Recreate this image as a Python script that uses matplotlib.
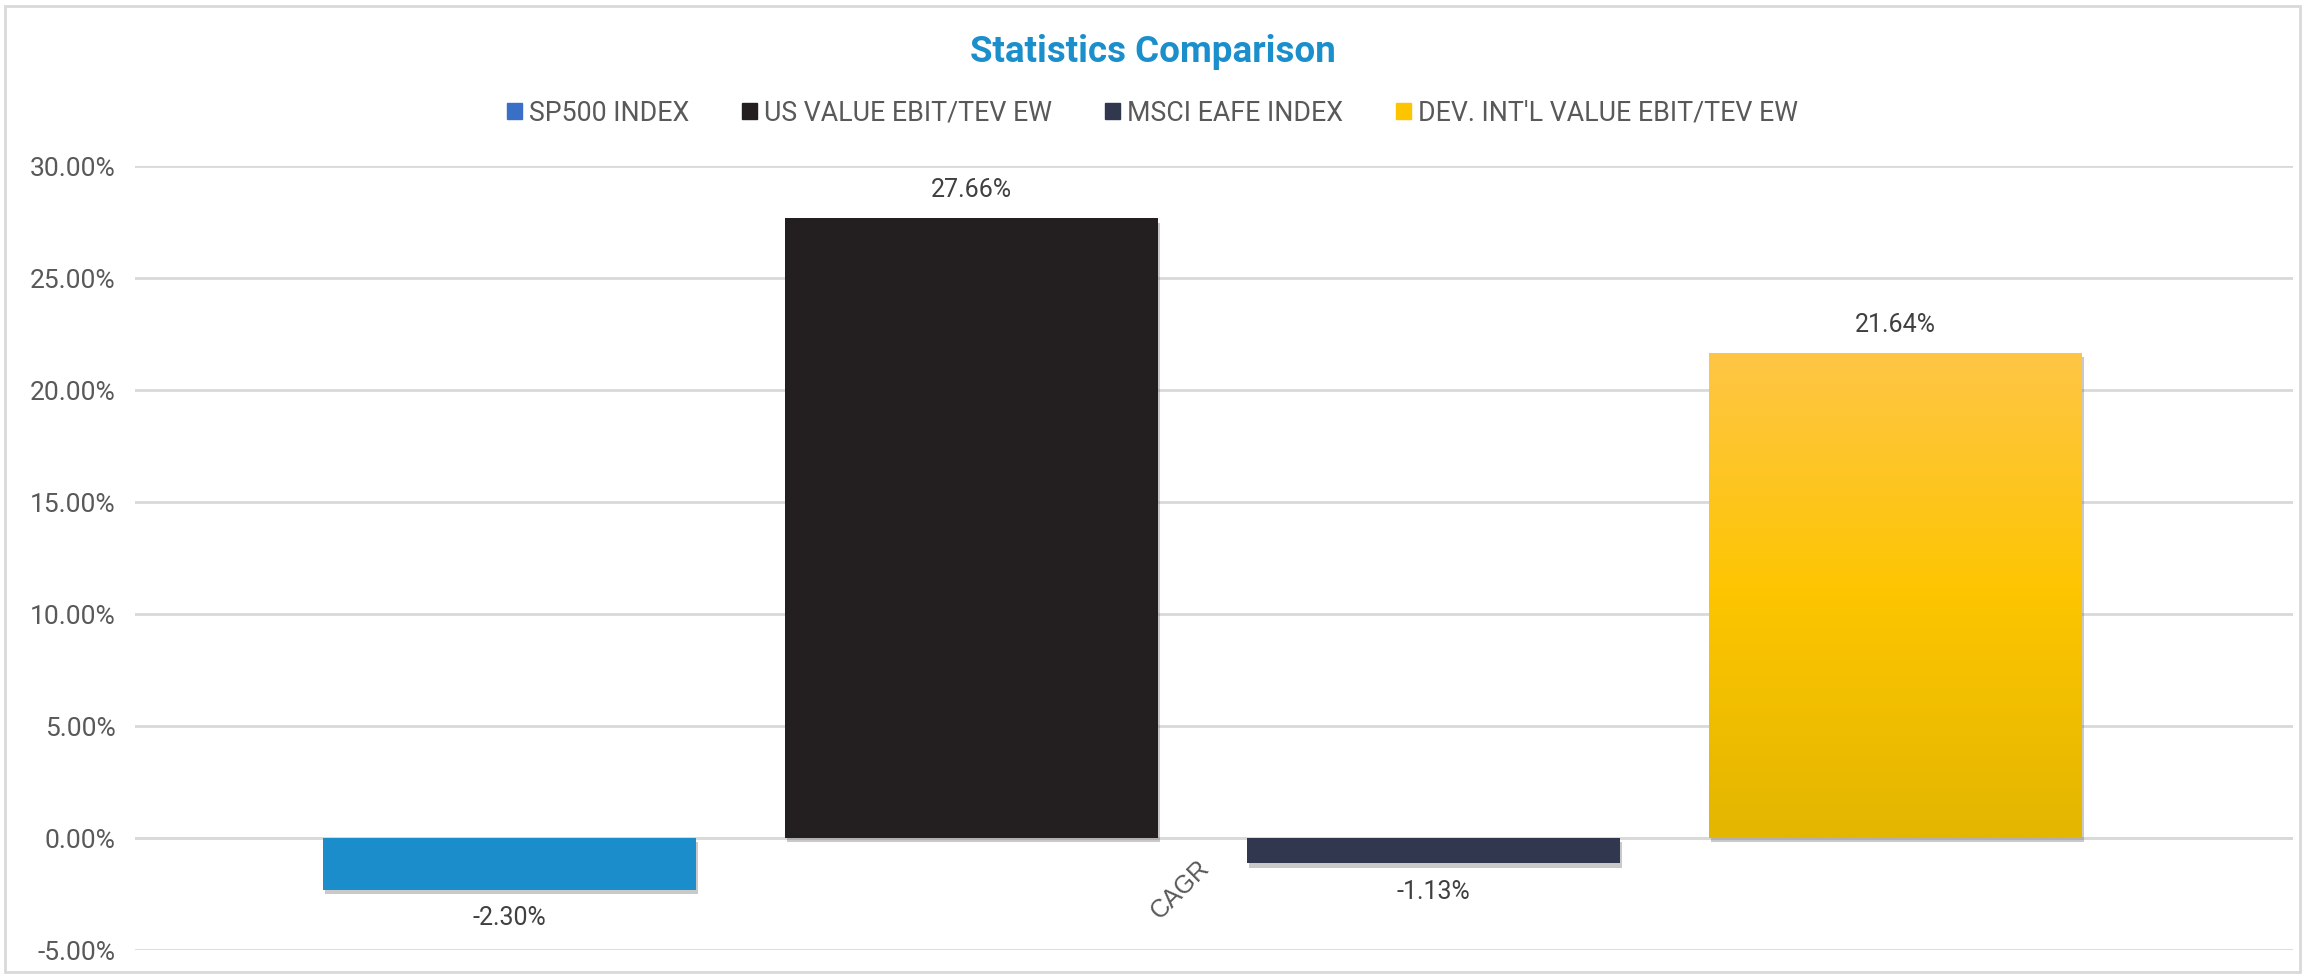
import matplotlib.pyplot as plt
import matplotlib.patheffects as pe
from matplotlib.patches import Rectangle
from matplotlib.colors import LinearSegmentedColormap
import numpy as np

plt.rcParams['font.family'] = ['Roboto', 'DejaVu Sans']

# data
series = ["SP500 INDEX", "US VALUE EBIT/TEV EW", "MSCI EAFE INDEX", "DEV. INT'L VALUE EBIT/TEV EW"]
values = [-2.30, 27.66, -1.13, 21.64]
category = "CAGR"
colors = ["#1B8DCB", "#231F20", "#31374F", "#FDC500"]
legend_colors = ["#3A6FC8", "#231F20", "#31374F", "#FDC500"]
yticks = [-5, 0, 5, 10, 15, 20, 25, 30]

fig = plt.figure(figsize=(23.05, 9.75), dpi=100)
ax = fig.add_axes([0.0586, 0.0256, 0.9362, 0.8041])

# rahmen rundt figuren
fig.patches.append(Rectangle((0.002, 0.003), 0.996, 0.991, transform=fig.transFigure,
                             fill=False, edgecolor="#D9D9D9", linewidth=2))

x = np.arange(len(values))
shadow = [pe.SimplePatchShadow(offset=(1.5, -3), shadow_rgbFace="#666666", alpha=0.35), pe.Normal()]
bars = ax.bar(x, values, width=0.806, color=colors, zorder=3)
for b in bars:
    b.set_path_effects(shadow)

# gradient paa den gule stolpen
yb = bars[3]
grad = np.linspace(0, 1, 256).reshape(-1, 1)
cmap = LinearSegmentedColormap.from_list("gul", ["#E3B600", "#FDC500", "#FFC646"])
img = ax.imshow(grad, cmap=cmap, aspect="auto", origin="lower",
                extent=[yb.get_x(), yb.get_x() + yb.get_width(), 0, yb.get_height()], zorder=4)
img.set_clip_path(yb)

# verdier
for xi, v in zip(x, values):
    if v >= 0:
        ax.text(xi, v + 0.75, f"{v:.2f}%", ha="center", va="bottom", fontsize=18, color="#404040", zorder=5)
    else:
        ax.text(xi, v - 0.75, f"{v:.2f}%", ha="center", va="top", fontsize=18, color="#404040", zorder=5)

ax.set_xlim(-0.81, 3.86)
ax.set_ylim(-5, 30)
ax.set_yticks(yticks)
ax.set_yticklabels([f"{t:.2f}%" for t in yticks], fontsize=19, color="#595959")
ax.tick_params(axis="y", length=0, pad=14)
ax.set_xticks([])
ax.grid(axis="y", color="#D9D9D9", linewidth=2, zorder=0)
ax.axhline(0, color="#D9D9D9", linewidth=2, zorder=1)
for s in ax.spines.values():
    s.set_visible(False)

ax.text(1.451, -2.32, category, rotation=45, ha="center", va="center", rotation_mode="anchor",
        fontsize=18, color="#595959", family=["Liberation Sans"])

fig.text(0.5, 0.947, "Statistics Comparison", ha="center", va="center", fontsize=26.5,
         fontweight="bold", color="#1A8FCB")

handles = [Rectangle((0, 0), 1, 1, color=c) for c in legend_colors]
fig.legend(handles, series, loc="center", bbox_to_anchor=(0.5, 0.884), ncol=4, frameon=False,
           fontsize=19.3, handlelength=0.55, handleheight=0.55, handletextpad=0.25,
           columnspacing=2.0, labelcolor="#595959")

plt.savefig("out.png", dpi=100)
